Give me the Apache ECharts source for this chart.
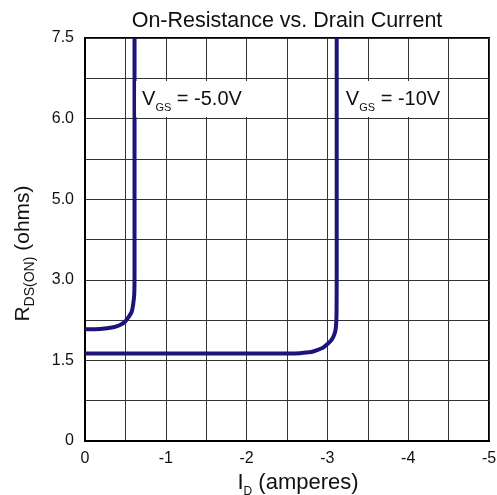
<!DOCTYPE html>
<html>
<head>
<meta charset="utf-8">
<script src="https://cdn.jsdelivr.net/npm/echarts@6/dist/echarts.min.js"></script>
<style>html,body{margin:0;padding:0;background:#fff}#c{width:497px;height:495px}</style>
</head>
<body>
<div id="c"></div>
<script>
// ---- data ----
const titleText = 'On-Resistance vs. Drain Current';
const xTickValues = [0, -1, -2, -3, -4, -5];
const yTickValues = [0, 1.5, 3.0, 5.0, 6.0, 7.5];        // ohms (non-uniform axis)
const yTickLabels = ['0', '1.5', '3.0', '5.0', '6.0', '7.5'];
const seriesNames = ['VGS = -5.0V', 'VGS = -10V'];
// I_D (A), R_DS(on) (ohms)
const vgs5X = [0, -0.186, -0.35, -0.433, -0.495, -0.536, -0.578, -0.598, -0.61, -0.613, -0.613];
const vgs5Y = [2.08, 2.085, 2.116, 2.159, 2.22, 2.30, 2.406, 2.563, 2.749, 3.2, 7.5];
const vgs10X = [0, -1, -2, -2.5, -2.66, -2.8, -2.87, -2.95, -2.99, -3.04, -3.073, -3.095, -3.106, -3.112, -3.114, -3.115, -3.115];
const vgs10Y = [1.63, 1.63, 1.63, 1.63, 1.635, 1.655, 1.69, 1.74, 1.79, 1.86, 1.94, 2.03, 2.13, 2.3, 2.6, 3.2, 7.5];
// annotation anchors (data coordinates: I_D, ohms)
const labelX = [-1.324, -3.812];
const labelY = [6.365, 6.365];
const labelTexts = ['{a|V}{b|GS}{a| = -5.0V}', '{a|V}{b|GS}{a| = -10V}'];

// piecewise mapping of the non-uniform ohm axis onto evenly spaced tick positions
function ohmToPos(v) {
  for (let i = 0; i < yTickValues.length - 1; i++) {
    const a = yTickValues[i], b = yTickValues[i + 1];
    if (v <= b || i === yTickValues.length - 2) {
      return 2 * i + 2 * (v - a) / (b - a);
    }
  }
  return 0;
}
const yMaxPos = 2 * (yTickValues.length - 1);

const FONT = "'Liberation Sans', Arial, sans-serif";
const lineColor = '#1c1478';

function pairs(xs, ys) { return xs.map((x, i) => [x, ohmToPos(ys[i])]); }

const richV = {
  a: { fontSize: 20, fontFamily: FONT, color: '#111', lineHeight: 28 },
  b: { fontSize: 11, fontFamily: FONT, color: '#111', verticalAlign: 'bottom' }
};

const chart = echarts.init(document.getElementById('c'));
chart.setOption({
  backgroundColor: '#fff',
  animation: false,
  title: {
    text: titleText, left: 287, top: 10, textAlign: 'center', padding: 0,
    textStyle: { fontFamily: FONT, fontSize: 21.5, fontWeight: 'normal', color: '#111' }
  },
  grid: {
    left: 85, top: 38, width: 404, height: 403, show: true, borderColor: '#000', borderWidth: 2,
    backgroundColor: 'transparent', containLabel: false, outerBoundsMode: 'none'
  },
  xAxis: {
    type: 'value', min: -5, max: 0, interval: 0.5, inverse: true,
    axisLine: { show: true, lineStyle: { color: '#000', width: 2 } },
    axisTick: { show: false },
    splitLine: { show: true, lineStyle: { color: '#333', width: 1 } },
    axisLabel: {
      margin: 10, fontFamily: FONT, fontSize: 16, color: '#111',
      formatter: v => (xTickValues.indexOf(v) >= 0 ? String(v) : '')
    },
    name: '{a|I}{b|D}{a| (amperes)}', nameLocation: 'middle', nameGap: 27,
    nameTextStyle: {
      padding: [0, 0, 0, 22],
      rich: {
        a: { fontSize: 22, fontFamily: FONT, color: '#111', lineHeight: 30 },
        b: { fontSize: 12, fontFamily: FONT, color: '#111', verticalAlign: 'bottom' }
      }
    }
  },
  yAxis: {
    type: 'value', min: 0, max: yMaxPos, interval: 1,
    axisLine: { show: true, lineStyle: { color: '#000', width: 2 } },
    axisTick: { show: false },
    splitLine: { show: true, lineStyle: { color: '#333', width: 1 } },
    axisLabel: {
      margin: 11, fontFamily: FONT, fontSize: 16, color: '#111',
      formatter: v => (v % 2 === 0 ? yTickLabels[v / 2] : '')
    },
    name: '{a|R}{b|DS(ON)}{a| (ohms)}', nameLocation: 'middle', nameRotate: 90, nameGap: 48,
    nameTextStyle: {
      padding: [0, 28, 0, 0],
      rich: {
        a: { fontSize: 21, fontFamily: FONT, color: '#111', lineHeight: 27 },
        b: { fontSize: 14, fontFamily: FONT, color: '#111', verticalAlign: 'bottom' }
      }
    }
  },
  series: [
    {
      name: seriesNames[0], type: 'line', data: pairs(vgs5X, vgs5Y), smooth: 0.25,
      showSymbol: false, symbol: 'none', clip: true,
      lineStyle: { color: lineColor, width: 4 },
      markPoint: {
        symbol: 'rect', symbolSize: 1, itemStyle: { color: 'rgba(0,0,0,0)' },
        label: { show: true, position: 'inside', formatter: labelTexts[0], backgroundColor: '#fff', padding: [4, 6, 4, 6], rich: richV },
        data: [{ coord: [labelX[0], ohmToPos(labelY[0])] }]
      }
    },
    {
      name: seriesNames[1], type: 'line', data: pairs(vgs10X, vgs10Y), smooth: 0.25,
      showSymbol: false, symbol: 'none', clip: true,
      lineStyle: { color: lineColor, width: 4 },
      markPoint: {
        symbol: 'rect', symbolSize: 1, itemStyle: { color: 'rgba(0,0,0,0)' },
        label: { show: true, position: 'inside', formatter: labelTexts[1], backgroundColor: '#fff', padding: [4, 6, 4, 6], rich: richV },
        data: [{ coord: [labelX[1], ohmToPos(labelY[1])] }]
      }
    }
  ]
});
</script>
</body>
</html>
